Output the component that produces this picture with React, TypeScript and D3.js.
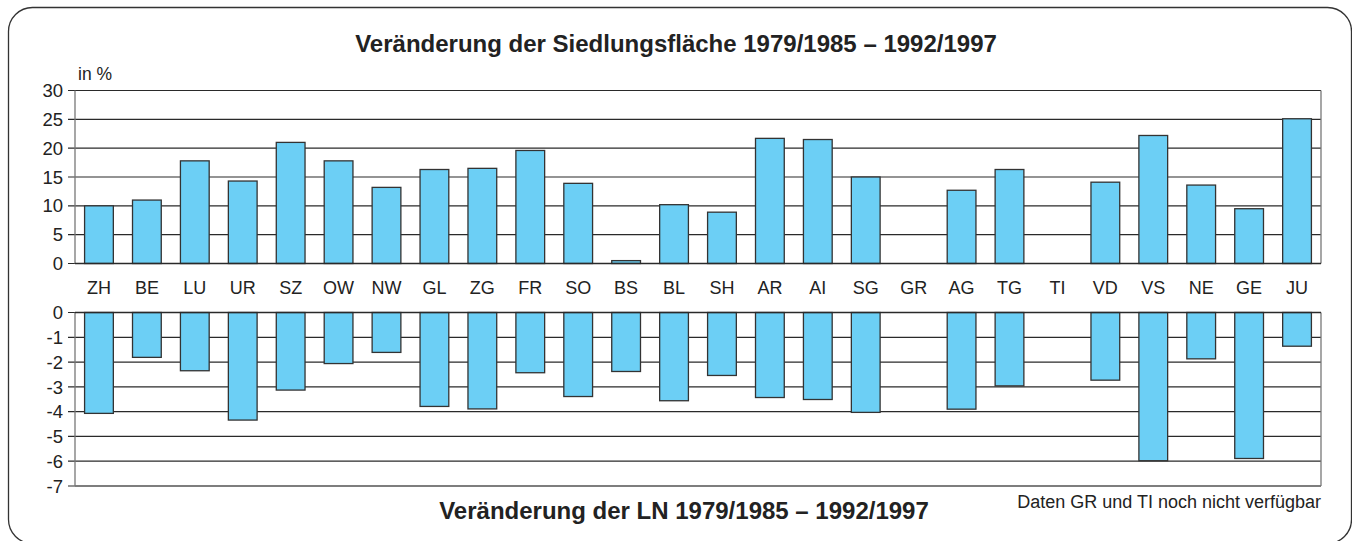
import React from "react";
import * as d3 from "d3";

const cantons = ["ZH", "BE", "LU", "UR", "SZ", "OW", "NW", "GL", "ZG", "FR", "SO", "BS", "BL", "SH", "AR", "AI", "SG", "GR", "AG", "TG", "TI", "VD", "VS", "NE", "GE", "JU"];
// null = Daten noch nicht verfügbar
const siedlung = [10.0, 11.0, 17.8, 14.3, 21.0, 17.8, 13.2, 16.3, 16.5, 19.6, 13.9, 0.5, 10.2, 8.9, 21.7, 21.5, 15.0, null, 12.7, 16.3, null, 14.1, 22.2, 13.6, 9.5, 25.1];
const ln = [-4.07, -1.81, -2.35, -4.34, -3.13, -2.06, -1.61, -3.79, -3.89, -2.43, -3.39, -2.38, -3.56, -2.54, -3.43, -3.51, -4.03, null, -3.9, -2.96, null, -2.73, -5.98, -1.87, -5.89, -1.36];
const topTicks = [0, 5, 10, 15, 20, 25, 30];
const bottomTicks = [0, -1, -2, -3, -4, -5, -6, -7];

const W = 1352, H = 541;
const left = 75, right = 1321;
const FONT = "'Liberation Sans', Arial, sans-serif";
const FILL = "#6ccff5";

const App = () => {
  const x = d3.scaleBand<string>().domain(cantons).range([left, right]).paddingInner(0.4).paddingOuter(0.2);
  const yTop = d3.scaleLinear().domain([0, 30]).range([263.5, 90.5]);
  const yBot = d3.scaleLinear().domain([-7, 0]).range([486, 312.5]);

  const grid = (y: d3.ScaleLinear<number, number>, ticks: number[]) =>
    ticks.map(t => (
      <g key={t}>
        <line x1={68} x2={right} y1={y(t)} y2={y(t)} stroke="#2a2a2a" strokeWidth={1.2} />
        <text x={63} y={y(t)} dy="0.36em" textAnchor="end" fontSize={18.5} fill="#222">{t}</text>
      </g>
    ));

  return (
    <svg width={W} height={H} style={{ position: "absolute", left: 0, top: 0 }} fontFamily={FONT}>
      <rect x={8.5} y={7.5} width={1343} height={536} rx={24} fill="white" stroke="#333" strokeWidth={1.3} />
      <text x={676} y={52} textAnchor="middle" fontSize={24} fontWeight="bold" fill="#222">
        Veränderung der Siedlungsfläche 1979/1985 – 1992/1997
      </text>
      <text x={78} y={80} fontSize={17.5} fill="#222">in %</text>

      {grid(yTop, topTicks)}
      {grid(yBot, bottomTicks)}

      <line x1={left} x2={left} y1={yTop(30)} y2={yTop(0)} stroke="#777" strokeWidth={1.3} />
      <line x1={right} x2={right} y1={yTop(30)} y2={yTop(0)} stroke="#777" strokeWidth={1.3} />
      <line x1={left} x2={left} y1={yBot(0)} y2={yBot(-7)} stroke="#777" strokeWidth={1.3} />
      <line x1={right} x2={right} y1={yBot(0)} y2={yBot(-7)} stroke="#777" strokeWidth={1.3} />
      <line x1={left} x2={right} y1={yBot(-7)} y2={yBot(-7)} stroke="#777" strokeWidth={1.3} />

      {siedlung.map((v, i) =>
        v == null ? null : (
          <rect key={"t" + i} x={x(cantons[i])} y={yTop(v)} width={x.bandwidth()} height={yTop(0) - yTop(v)}
            fill={FILL} stroke="#333" strokeWidth={1.3} />
        )
      )}
      {ln.map((v, i) =>
        v == null ? null : (
          <rect key={"b" + i} x={x(cantons[i])} y={yBot(0)} width={x.bandwidth()} height={yBot(v) - yBot(0)}
            fill={FILL} stroke="#333" strokeWidth={1.3} />
        )
      )}
      <line x1={left} x2={right} y1={yTop(0)} y2={yTop(0)} stroke="#2a2a2a" strokeWidth={1.3} />
      <line x1={left} x2={right} y1={yBot(0)} y2={yBot(0)} stroke="#2a2a2a" strokeWidth={1.3} />

      {cantons.map(c => (
        <text key={c} x={(x(c) ?? 0) + x.bandwidth() / 2} y={294} textAnchor="middle" fontSize={18} fill="#222">{c}</text>
      ))}

      <text x={684} y={519} textAnchor="middle" fontSize={24} fontWeight="bold" fill="#222">
        Veränderung der LN 1979/1985 – 1992/1997
      </text>
      <text x={1321} y={508} textAnchor="end" fontSize={18} fill="#222">Daten GR und TI noch nicht verfügbar</text>
    </svg>
  );
};

export default App;
